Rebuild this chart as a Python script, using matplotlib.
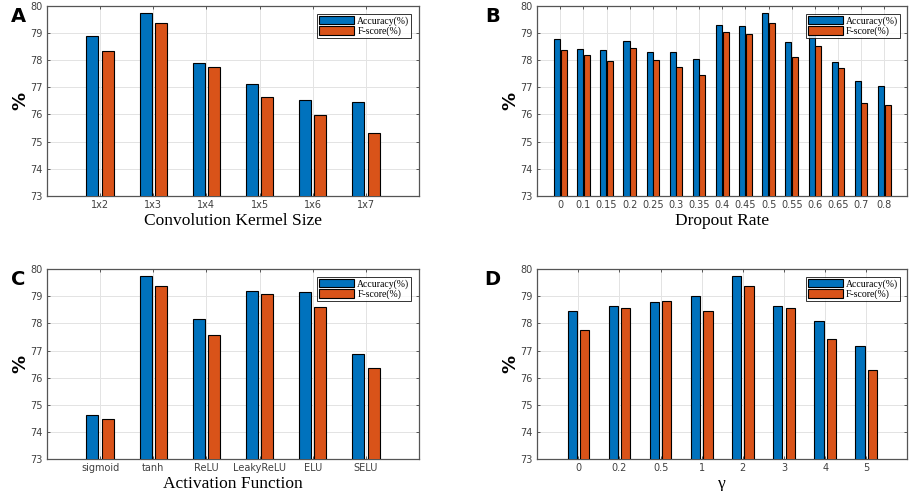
import numpy as np
import matplotlib
matplotlib.use("Agg")
import matplotlib.pyplot as plt
from matplotlib.patches import Patch

kernel_labels = ["1x2", "1x3", "1x4", "1x5", "1x6", "1x7"]
kernel_acc = [78.90, 79.74, 77.88, 77.12, 76.52, 76.47]
kernel_f1 = [78.34, 79.37, 77.74, 76.63, 75.98, 75.33]

dropout_labels = ["0", "0.1", "0.15", "0.2", "0.25", "0.3", "0.35", "0.4",
                  "0.45", "0.5", "0.55", "0.6", "0.65", "0.7", "0.8"]
dropout_acc = [78.77, 78.42, 78.38, 78.69, 78.31, 78.31, 78.06, 79.31,
               79.25, 79.74, 78.66, 79.02, 77.92, 77.24, 77.06]
dropout_f1 = [78.38, 78.18, 77.96, 78.44, 77.99, 77.74, 77.47, 79.04,
              78.98, 79.36, 78.10, 78.53, 77.72, 76.44, 76.36]

act_labels = ["sigmoid", "tanh", "ReLU", "LeakyReLU", "ELU", "SELU"]
act_acc = [74.62, 79.75, 78.15, 79.18, 79.15, 76.88]
act_f1 = [74.46, 79.37, 77.56, 79.09, 78.61, 76.36]

gamma_labels = ["0", "0.2", "0.5", "1", "2", "3", "4", "5"]
gamma_acc = [78.45, 78.64, 78.79, 79.02, 79.75, 78.64, 78.07, 77.15]
gamma_f1 = [77.76, 78.56, 78.82, 78.47, 79.37, 78.56, 77.44, 76.28]

BLUE = "#0072BD"
ORANGE = "#D95319"
AXC = "#404040"


def panel(ax, labels, acc, f1, xlabel, width, offset, letter, label_x):
    n = len(labels)
    x = np.arange(1, n + 1)
    ax.bar(x - offset, acc, width, color=BLUE, edgecolor="black", linewidth=0.8,
           zorder=3)
    ax.bar(x + offset, f1, width, color=ORANGE, edgecolor="black", linewidth=0.8,
           zorder=3)
    ax.set_xlim(0, n + 1)
    ax.set_ylim(73, 80)
    ax.set_xticks(x)
    ax.set_xticklabels(labels)
    ax.set_yticks(range(73, 81))
    ax.grid(True, color="#e3e3e3", linewidth=0.7, zorder=0)
    ax.set_axisbelow(True)
    ax.tick_params(direction="in", length=2.5, width=0.6, colors=AXC,
                   labelsize=7, top=True, right=True, pad=3)
    for s in ax.spines.values():
        s.set_color("#555555")
        s.set_linewidth(0.9)
    ax.set_xlabel(xlabel, family="Liberation Serif", fontsize=12.5, labelpad=2)
    ax.set_ylabel("%", fontsize=13, fontweight="bold", labelpad=1)
    handles = [Patch(facecolor=BLUE, edgecolor="black", linewidth=0.8),
               Patch(facecolor=ORANGE, edgecolor="black", linewidth=0.8)]
    leg = ax.legend(handles, ["Accuracy(%)", "F-score(%)"], loc="upper right",
                    prop={"family": "Liberation Serif", "size": 7},
                    frameon=True, fancybox=False, edgecolor="black",
                    handlelength=3.6, handleheight=1.0, handletextpad=0.3,
                    borderpad=0.2, labelspacing=0.05, borderaxespad=0.8)
    leg.get_frame().set_linewidth(0.7)
    pos = ax.get_position()
    ax.figure.text(label_x, pos.y1 - 0.022, letter, fontsize=14,
                   fontweight="bold", ha="center", va="center")


fig = plt.figure(figsize=(9.12, 4.91), dpi=100)
ax_a = fig.add_axes([0.0515, 0.601, 0.408, 0.387])
ax_b = fig.add_axes([0.589, 0.601, 0.406, 0.387])
ax_c = fig.add_axes([0.0515, 0.065, 0.408, 0.387])
ax_d = fig.add_axes([0.589, 0.065, 0.406, 0.387])

panel(ax_a, kernel_labels, kernel_acc, kernel_f1, "Convolution Kermel Size",
      0.226, 0.145, "A", 0.02)
panel(ax_b, dropout_labels, dropout_acc, dropout_f1, "Dropout Rate",
      0.26, 0.14, "B", 0.54)
panel(ax_c, act_labels, act_acc, act_f1, "Activation Function",
      0.226, 0.145, "C", 0.02)
panel(ax_d, gamma_labels, gamma_acc, gamma_f1, "\u03b3",
      0.225, 0.15, "D", 0.54)

fig.savefig("out.png", dpi=100)
plt.close(fig)
